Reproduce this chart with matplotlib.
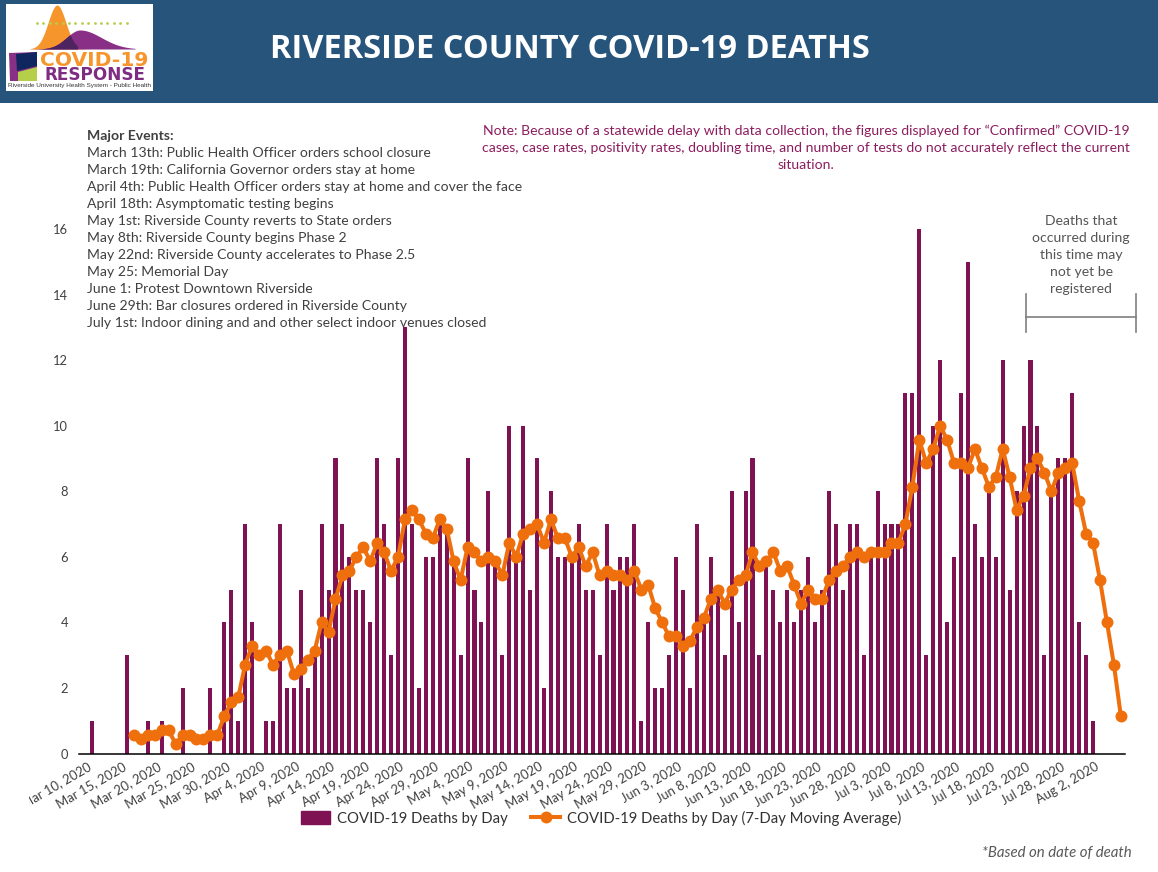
import matplotlib
matplotlib.use("Agg")
import matplotlib.pyplot as plt
import numpy as np
from matplotlib.patches import Rectangle, Polygon
from matplotlib.transforms import Bbox, ScaledTranslation
from matplotlib.lines import Line2D

W, H = 1158, 872
plt.rcParams['font.family'] = ['Lato', 'DejaVu Sans']

deaths = [1,0,0,0,0,3,0,0,1,0,1,0,0,2,0,0,0,2,0,4,
          5,1,7,4,0,1,1,7,2,2,5,2,3,7,5,9,7,6,5,5,
          4,9,7,3,9,13,7,2,6,6,7,7,6,3,9,5,4,8,6,3,
          10,6,10,5,9,2,8,6,6,6,7,5,5,3,7,5,6,6,7,1,
          4,2,2,3,6,5,2,7,4,6,5,3,8,4,8,9,3,6,5,4,
          5,4,5,6,4,5,8,7,5,7,7,3,6,8,7,7,7,11,11,16,
          3,10,12,4,6,11,15,7,6,8,6,12,5,8,10,12,10,3,8,9,
          9,11,4,3,1]
avg_start = 6
moving_avg = [0.57,0.43,0.57,0.57,0.71,0.71,0.29,0.57,0.57,0.43,0.43,0.57,0.57,1.14,
              1.57,1.71,2.71,3.29,3.0,3.14,2.71,3.0,3.14,2.43,2.57,2.86,3.14,4.0,3.71,4.71,
              5.43,5.57,6.0,6.29,5.86,6.43,6.14,5.57,6.0,7.14,7.43,7.14,6.71,6.57,7.14,6.86,
              5.86,5.29,6.29,6.14,5.86,6.0,5.86,5.43,6.43,6.0,6.71,6.86,7.0,6.43,7.14,6.57,
              6.57,6.0,6.29,5.71,6.14,5.43,5.57,5.43,5.43,5.29,5.57,5.0,5.14,4.43,4.0,3.57,
              3.57,3.29,3.43,3.86,4.14,4.71,5.0,4.57,5.0,5.29,5.43,6.14,5.71,5.86,6.14,5.57,
              5.71,5.14,4.57,5.0,4.71,4.71,5.29,5.57,5.71,6.0,6.14,6.0,6.14,6.14,6.14,6.43,
              6.43,7.0,8.14,9.57,8.86,9.29,10.0,9.57,8.86,8.86,8.71,9.29,8.71,8.14,8.43,9.29,
              8.43,7.43,7.86,8.71,9.0,8.57,8.0,8.57,8.71,8.86,7.71,6.71,6.43,5.29,4.0,2.71,1.14]
tick_labels = ["Mar 10, 2020","Mar 15, 2020","Mar 20, 2020","Mar 25, 2020","Mar 30, 2020",
               "Apr 4, 2020","Apr 9, 2020","Apr 14, 2020","Apr 19, 2020","Apr 24, 2020","Apr 29, 2020",
               "May 4, 2020","May 9, 2020","May 14, 2020","May 19, 2020","May 24, 2020","May 29, 2020",
               "Jun 3, 2020","Jun 8, 2020","Jun 13, 2020","Jun 18, 2020","Jun 23, 2020","Jun 28, 2020",
               "Jul 3, 2020","Jul 8, 2020","Jul 13, 2020","Jul 18, 2020","Jul 23, 2020","Jul 28, 2020",
               "Aug 2, 2020"]
y_ticks = [0,2,4,6,8,10,12,14,16]
title = "RIVERSIDE COUNTY COVID-19 DEATHS"
events_head = "Major Events:"
events = ["March 13th: Public Health Officer orders school closure",
          "March 19th: California Governor orders stay at home",
          "April 4th: Public Health Officer orders stay at home and cover the face",
          "April 18th: Asymptomatic testing begins",
          "May 1st: Riverside County reverts to State orders",
          "May 8th: Riverside County begins Phase 2",
          "May 22nd: Riverside County accelerates to Phase 2.5",
          "May 25: Memorial Day",
          "June 1: Protest Downtown Riverside",
          "June 29th: Bar closures ordered in Riverside County",
          "July 1st: Indoor dining and and other select indoor venues closed"]
note = ["Note: Because of a statewide delay with data collection, the figures displayed for \u201cConfirmed\u201d COVID-19",
        "cases, case rates, positivity rates, doubling time, and number of tests do not accurately reflect the current",
        "situation."]
caveat = ["Deaths that","occurred during","this time may","not yet be","registered"]

BAR = "#7F1253"; ORANGE = "#EE6F0B"; GREY = "#404040"; NAVY = "#27547B"; PLUM = "#8C1D5E"

fig = plt.figure(figsize=(W/100, H/100), dpi=100, facecolor="white")
L, R, T, B = 79, 1125, 229, 753.5
ax = fig.add_axes([L/W, 1-B/H, (R-L)/W, (B-T)/H])
x0 = 92.25; dx = 6.95
ax.set_xlim((L-x0)/dx, (R-x0)/dx)
ax.set_ylim(0, 16)
ax.bar(np.arange(len(deaths)), deaths, width=0.58, color=BAR, label="COVID-19 Deaths by Day", zorder=2)
ax.plot(np.arange(len(moving_avg))+avg_start, moving_avg, color=ORANGE, lw=2.9, marker='o', ms=8.6,
        mew=0, clip_on=False, zorder=3, label="COVID-19 Deaths by Day (7-Day Moving Average)")
for s in ['top','right','left']:
    ax.spines[s].set_visible(False)
ax.spines['bottom'].set_linewidth(1.1)
ax.set_yticks(y_ticks)
ax.set_xticks(np.arange(len(tick_labels))*5)
ax.set_xticklabels(tick_labels, rotation=30, ha='right', rotation_mode='anchor', fontsize=9.4, color=GREY)
ax.tick_params(axis='both', length=0)
ax.tick_params(axis='x', pad=5)
ax.tick_params(axis='y', pad=8, labelsize=9.3, labelcolor=GREY)
clip = Bbox([[29, 0], [W, H]])
shift = ScaledTranslation(-5/100, 0, fig.dpi_scale_trans)
for t in ax.get_xticklabels():
    t.set_transform(t.get_transform() + shift)
    t.set_clip_box(clip); t.set_clip_on(True)
leg = fig.legend(handles=[Rectangle((0,0),1,1,color=BAR,label="COVID-19 Deaths by Day"),
                          Line2D([0],[0],color=ORANGE,lw=2.9,marker='o',ms=8.6,mew=0,
                                 label="COVID-19 Deaths by Day (7-Day Moving Average)")],
                 loc='center', bbox_to_anchor=(601/W, 1-818/H), ncol=2, frameon=False,
                 fontsize=10.75, handlelength=1.94, handleheight=1.0, columnspacing=1.6, handletextpad=0.47,
                 labelcolor="#333333")

ov = fig.add_axes([0,0,1,1], zorder=5)
ov.set_xlim(0, W); ov.set_ylim(H, 0); ov.axis('off'); ov.patch.set_alpha(0)
ov.add_patch(Rectangle((0,0), W, 103, color=NAVY, lw=0))
ov.text(570, 49.5, title, color="white", ha='center', va='center', fontsize=23.5, fontweight='bold', family='Open Sans')

# logo
ov.add_patch(Rectangle((6,4), 146.5, 87, color="white", lw=0))
xs = np.linspace(30, 135, 120)
orange = 49 - 44*np.exp(-((xs-57)/12.5)**2)
purple = 49 - 19*np.exp(-((xs-80)/(19+ (xs>80)*11))**2)
ov.fill_between(xs, 49, orange, color="#F7952D", lw=0)
ov.fill_between(xs, 49, purple, color="#8A2F86", lw=0)
ov.fill_between(xs, 49, np.maximum(orange, purple), where=xs<78, color="#4D2460", lw=0)
ov.scatter(np.arange(37,128,6.4), [23]*15, s=4, color="#B5CF4B", lw=0, zorder=4)
ov.add_patch(Polygon([(9,53),(37,52),(37,81),(10,81)], color="#8A2F86", lw=0))
ov.add_patch(Polygon([(16,54),(37,52),(37,66),(17,71)], color="#10265E", lw=0))
ov.add_patch(Polygon([(18,72),(37,67),(37,81),(18,81)], color="#B5CF4B", lw=0))
ov.text(94.5, 61, "COVID-19", color="#F7952D", ha='center', va='center', fontsize=14.6, fontweight='bold', family='DejaVu Sans')
ov.text(95, 75.5, "RESPONSE", color="#7E2C82", ha='center', va='center', fontsize=12.2, fontweight='bold', family='DejaVu Sans')
ov.text(79, 86, "Riverside University Health System - Public Health", color="#333333", ha='center', va='center', fontsize=4.6, family='Liberation Sans')

ov.text(87, 136, events_head, color=GREY, fontsize=10.05, fontweight='bold', va='center')
for i, e in enumerate(events):
    ov.text(87, 153+17*i, e, color=GREY, fontsize=10.05, va='center')
for i, n in enumerate(note):
    ov.text(806, 131+17*i, n, color=PLUM, fontsize=10.05, ha='center', va='center')
for i, c in enumerate(caveat):
    ov.text(1081, 221+17*i, c, color="#555555", fontsize=10.05, ha='center', va='center')
ov.plot([1026,1136],[317,317], color="#7F7F7F", lw=1.2)
ov.plot([1026,1026],[294,332], color="#7F7F7F", lw=1.2)
ov.plot([1136,1136],[294,332], color="#7F7F7F", lw=1.2)
ov.text(1132, 853, "*Based on date of death", color="#595959", fontsize=10.85, style='italic', ha='right', va='center')
fig.savefig("out.png", dpi=100)
